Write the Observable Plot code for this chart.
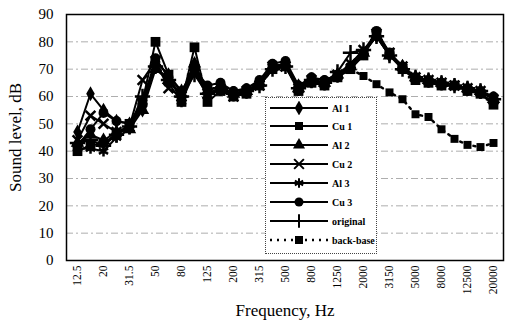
<!DOCTYPE html>
<html>
<head>
<meta charset="utf-8">
<script src="https://cdn.jsdelivr.net/npm/d3@7"></script>
<script src="https://cdn.jsdelivr.net/npm/@observablehq/plot@0.6"></script>
<style>
  html, body { margin: 0; padding: 0; background: #fff; }
  #wrap { position: relative; width: 505px; height: 321px; font-family: "Liberation Serif", "DejaVu Serif", serif; }
  #legend { position: absolute; left: 265px; top: 97px; width: 112px; height: 157px; background: #fff;
            border: 1px dotted #444; box-sizing: border-box; }
  .li { position: absolute; left: 2px; height: 14px; display: flex; align-items: center; }
  .li span { font-size: 10px; font-weight: bold; margin-left: 2px; color: #000; }
</style>
</head>
<body>
<div id="wrap"><div id="legend"></div></div>
<script>
const freqs = ["12.5","16","20","25","31.5","40","50","63","80","100","125","160","200","250","315","400","500","630","800","1000","1250","1600","2000","2500","3150","4000","5000","6300","8000","10000","12500","16000","20000"];
const tickLabels = freqs.filter((d, i) => i % 2 === 0);
const yTicks = [0,10,20,30,40,50,60,70,80,90];
const gridTicks = [10,20,30,40,50,60,70,80];

const seriesNames = ["Al 1","Cu 1","Al 2","Cu 2","Al 3","Cu 3","original","back-base"];
const al1  = [47,61,55,51,50,55,73,68,62,70,63,63,61,62,65,71,72,64,66,65,68,71,76,82,75,71,67,66,65,64,63,62,59];
const cu1  = [40,42,43,46,50,58,80,68,58,78,58,62,60,61,64,70,71,62,65,64,67,70,75,83,76,70,66,65,64,64,62,61,57];
const al2  = [43,46,44,47,48,55,70,66,61,72,62,64,61,62,65,71,72,63,66,65,68,71,76,82,75,71,67,66,65,64,63,62,59];
const cu2  = [44,53,50,47,49,66,73,63,60,70,61,63,60,62,64,71,71,63,66,65,68,72,77,83,76,71,67,66,65,64,63,62,59];
const al3  = [41,41,40,45,48,58,72,65,58,69,60,63,61,62,65,71,72,63,65,65,67,71,76,83,75,71,67,66,65,64,63,61,58];
const cu3  = [42,48,54,51,50,57,74,67,62,70,64,65,62,63,66,72,73,64,67,66,68,71,76,84,76,71,67,66,65,64,63,62,60];
const orig = [43,44,42,46,49,60,71,66,60,68,61,63,61,62,64,70,71,63,66,65,69,76,77,82,75,70,67,66,65,64,63,62,59];
const back = [40,42,43,46,49,57,72,66,60,70,61,63,61,62,64,70,71,63,65,65,67,70,67.5,64.5,61.5,59,53.5,52.5,48,44.5,42.3,41.5,43];

const seriesValues = [al1, cu1, al2, cu2, al3, cu3, orig, back];
const symbols = ["diamond","square","triangle","times","asterisk","circle","plus","square"];
const filled = [true,true,true,false,false,true,false,true];
const radii = [4.5,5.5,5,4.5,5,5,5,4.5];

const rows = [];
seriesNames.forEach((s, si) => seriesValues[si].forEach((v, i) => rows.push({s, f: freqs[i], v})));

const marks = [
  Plot.ruleY(gridTicks, {stroke: "#999", strokeWidth: 0.8, strokeDasharray: "7,3,2,3"}),
];
marks.push(Plot.line(rows.filter(d => d.s === "back-base"), {x: "f", y: "v", stroke: "#000", strokeWidth: 2.5, strokeDasharray: "2,5"}));
marks.push(Plot.dot(rows.filter(d => d.s === "back-base"), {x: "f", y: "v", symbol: () => "square", r: radii[7], fill: "#000", stroke: "none"}));
seriesNames.slice(0, 7).forEach((name, si) => {
  const data = rows.filter(d => d.s === name);
  marks.push(Plot.line(data, {x: "f", y: "v", stroke: "#000", strokeWidth: 2}));
  marks.push(Plot.dot(data, filled[si]
    ? {x: "f", y: "v", symbol: () => symbols[si], r: radii[si], fill: "#000", stroke: "none"}
    : {x: "f", y: "v", symbol: () => symbols[si], r: radii[si], fill: "none", stroke: "#000", strokeWidth: 2.5}));
});
marks.push(Plot.frame({stroke: "#000", strokeWidth: 1.5}));
marks.push(Plot.axisY({ticks: yTicks, tickSize: 0, tickPadding: 13, fontSize: 15, label: "Sound level, dB", labelAnchor: "center", labelArrow: "none", labelOffset: 58}));
marks.push(Plot.axisX({ticks: tickLabels, tickSize: 0, tickPadding: 5, tickRotate: -90, fontSize: 11.5, label: "Frequency, Hz", labelAnchor: "center", labelArrow: "none", labelOffset: 55}));

const chart = Plot.plot({
  width: 505,
  height: 321,
  marginLeft: 66,
  marginRight: 2,
  marginTop: 14,
  marginBottom: 61,
  style: {fontFamily: "'Liberation Serif', 'DejaVu Serif', serif", fontSize: "15px", color: "#000", background: "#fff"},
  x: {type: "point", domain: freqs, padding: 0.45},
  y: {domain: [0, 90]},
  symbol: {type: "identity"},
  marks
});
const wrap = document.getElementById("wrap");
wrap.insertBefore(chart, wrap.firstChild);
chart.querySelectorAll("text").forEach(t => {
  if (t.textContent === "Sound level, dB" || t.textContent === "Frequency, Hz") t.setAttribute("font-size", "17");
});

// legend
const legend = document.getElementById("legend");
const symMap = {diamond: d3.symbolDiamond, square: d3.symbolSquare, triangle: d3.symbolTriangle, times: d3.symbolTimes, asterisk: d3.symbolAsterisk, circle: d3.symbolCircle, plus: d3.symbolPlus};
const itemTops = [10, 28, 47, 66, 85, 104, 123, 142];
seriesNames.forEach((name, si) => {
  const div = document.createElement("div");
  div.className = "li";
  div.style.top = (itemTops[si] - 7) + "px";
  const svg = d3.create("svg").attr("width", 62).attr("height", 14);
  if (si === 7) {
    svg.append("line").attr("x1", 2).attr("x2", 60).attr("y1", 7).attr("y2", 7).attr("stroke", "#000").attr("stroke-width", 2.5).attr("stroke-dasharray", "2,5");
  } else {
    svg.append("line").attr("x1", 2).attr("x2", 60).attr("y1", 7).attr("y2", 7).attr("stroke", "#000").attr("stroke-width", 1.8);
  }
  const r = Math.min(radii[si], 4.5);
  const p = svg.append("path").attr("transform", "translate(31,7)")
    .attr("d", d3.symbol(symMap[symbols[si]], Math.PI * r * r)());
  if (filled[si]) p.attr("fill", "#000"); else p.attr("fill", "none").attr("stroke", "#000").attr("stroke-width", 2);
  div.appendChild(svg.node());
  const sp = document.createElement("span");
  sp.textContent = name;
  div.appendChild(sp);
  legend.appendChild(div);
});
</script>
</body>
</html>
